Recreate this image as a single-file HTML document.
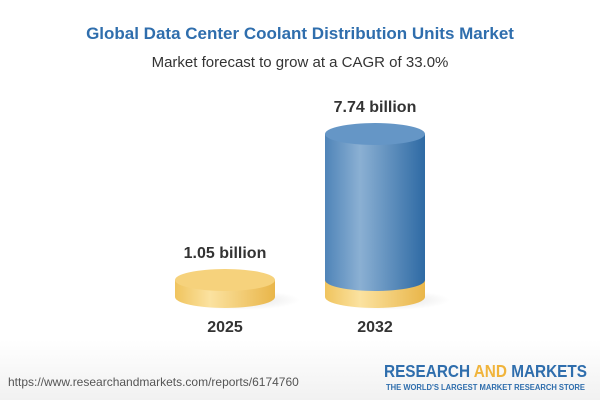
<!DOCTYPE html>
<html><head><style>
body{margin:0;width:600px;height:400px;background:#fff;font-family:"Liberation Sans",sans-serif;overflow:hidden}
</style></head><body>
<svg width="600" height="400" xmlns="http://www.w3.org/2000/svg">
<defs>
<linearGradient id="b" x1="0" x2="1"><stop offset="0" stop-color="#4f84b8"/><stop offset="0.35" stop-color="#8bb0d3"/><stop offset="1" stop-color="#2e6aa4"/></linearGradient>
<linearGradient id="y" x1="0" x2="1"><stop offset="0" stop-color="#f0c45e"/><stop offset="0.35" stop-color="#fbe2a0"/><stop offset="1" stop-color="#e9b64a"/></linearGradient>
<linearGradient id="f" x1="0" y1="0" x2="0" y2="1"><stop offset="0" stop-color="#fff"/><stop offset="1" stop-color="#f1f1f1"/></linearGradient>
<radialGradient id="sh"><stop offset="0" stop-color="#000" stop-opacity="0.12"/><stop offset="1" stop-color="#000" stop-opacity="0"/></radialGradient>
</defs>
<rect x="0" y="340" width="600" height="60" fill="url(#f)"/>
<text x="300" y="39" text-anchor="middle" font-size="17" font-weight="bold" fill="#2f6ead">Global Data Center Coolant Distribution Units Market</text>
<text x="300" y="67" text-anchor="middle" font-size="15" fill="#333">Market forecast to grow at a CAGR of 33.0%</text>
<ellipse cx="240" cy="300" rx="60" ry="10" fill="url(#sh)"/>
<ellipse cx="390" cy="300" rx="60" ry="10" fill="url(#sh)"/>
<!-- left disc -->
<path d="M175 280 V297 A50 11 0 0 0 275 297 V280 Z" fill="url(#y)"/>
<ellipse cx="225" cy="280" rx="50" ry="11" fill="#f6d27c"/>
<!-- right cylinder -->
<path d="M325 280 V297 A50 11 0 0 0 425 297 V280 Z" fill="url(#y)"/>
<path d="M325 134 V280 A50 11 0 0 0 425 280 V134 Z" fill="url(#b)"/>
<ellipse cx="375" cy="134" rx="50" ry="11" fill="#6596c6"/>
<text x="225" y="258" text-anchor="middle" font-size="16" font-weight="bold" fill="#333">1.05 billion</text>
<text x="375" y="112" text-anchor="middle" font-size="16" font-weight="bold" fill="#333">7.74 billion</text>
<text x="225" y="332" text-anchor="middle" font-size="16" font-weight="bold" fill="#333">2025</text>
<text x="375" y="332" text-anchor="middle" font-size="16" font-weight="bold" fill="#333">2032</text>
<text x="8" y="386" font-size="12" fill="#555">https://www.researchandmarkets.com/reports/6174760</text>
<text x="384" y="377" font-size="17.5" font-weight="bold" fill="#2f6ead" textLength="203" lengthAdjust="spacingAndGlyphs">RESEARCH <tspan fill="#f0b43c">AND</tspan> MARKETS</text>
<text x="386" y="390" font-size="8" font-weight="bold" fill="#2f6ead" textLength="199" lengthAdjust="spacingAndGlyphs">THE WORLD'S LARGEST MARKET RESEARCH STORE</text>
</svg>
</body></html>
